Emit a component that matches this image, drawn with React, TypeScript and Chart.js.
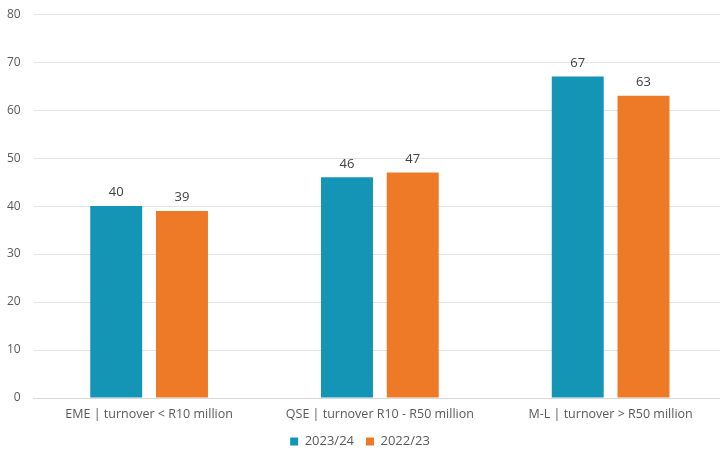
import React, { useEffect, useRef } from "react";
import { Chart, registerables } from "chart.js";

Chart.register(...registerables);

const categories = [
  "EME | turnover < R10 million",
  "QSE | turnover R10 - R50 million",
  "M-L | turnover > R50 million",
];
const series2324 = [40, 46, 67];
const series2223 = [39, 47, 63];
const seriesLabels = ["2023/24", "2022/23"];
const yTicks = [0, 10, 20, 30, 40, 50, 60, 70, 80];

const FONT = "'Open Sans', 'Noto Sans', sans-serif";

const valueLabels = {
  id: "valueLabels",
  afterDatasetsDraw(chart: any) {
    const ctx = chart.ctx;
    ctx.save();
    ctx.font = `13px ${FONT}`;
    ctx.fillStyle = "#404040";
    ctx.textAlign = "center";
    ctx.textBaseline = "bottom";
    chart.data.datasets.forEach((ds: any, i: number) => {
      const meta = chart.getDatasetMeta(i);
      meta.data.forEach((bar: any, j: number) => {
        ctx.fillText(String(ds.data[j]), bar.x, bar.y - 7);
      });
    });
    ctx.restore();
  },
};

export default function App() {
  const ref = useRef<HTMLCanvasElement>(null);
  useEffect(() => {
    if (!ref.current) return;
    const chart = new Chart(ref.current, {
      type: "bar",
      data: {
        labels: categories,
        datasets: [
          {
            label: seriesLabels[0],
            data: series2324,
            backgroundColor: "#1595B5",
            barPercentage: 0.79,
            categoryPercentage: 0.57,
          },
          {
            label: seriesLabels[1],
            data: series2223,
            backgroundColor: "#EE7A27",
            barPercentage: 0.79,
            categoryPercentage: 0.57,
          },
        ],
      },
      options: {
        animation: false,
        responsive: false,
        devicePixelRatio: 1,
        layout: { padding: { top: 0, left: 0, right: 0, bottom: -3 } },
        plugins: {
          legend: {
            position: "bottom",
            labels: {
              boxWidth: 8,
              boxHeight: 8,
              font: { family: FONT, size: 13 },
              color: "#595959",
              padding: 12,
            },
          },
          tooltip: { enabled: false },
        },
        scales: {
          x: {
            grid: { display: false },
            border: { color: "#d9d9d9" },
            ticks: {
              font: { family: FONT, size: 12.5 },
              color: "#595959",
              padding: 1,
              maxRotation: 0,
            },
          },
          y: {
            min: 0,
            max: 80,
            afterBuildTicks: (axis: any) => {
              axis.ticks = yTicks.map((v) => ({ value: v }));
            },
            grid: { color: "#e3e3e3", drawTicks: false },
            border: { display: false },
            ticks: {
              font: { family: FONT, size: 12 },
              color: "#595959",
              padding: 13,
            },
          },
        },
      },
      plugins: [valueLabels],
    });
    return () => chart.destroy();
  }, []);
  return (
    <div
      style={{
        position: "fixed",
        left: 0,
        top: 0,
        width: 720,
        height: 455,
        overflow: "hidden",
        background: "#fff",
      }}
    >
      <canvas
        ref={ref}
        width={732}
        height={461}
        style={{ display: "block", marginLeft: -6, marginTop: -6 }}
      />
    </div>
  );
}
